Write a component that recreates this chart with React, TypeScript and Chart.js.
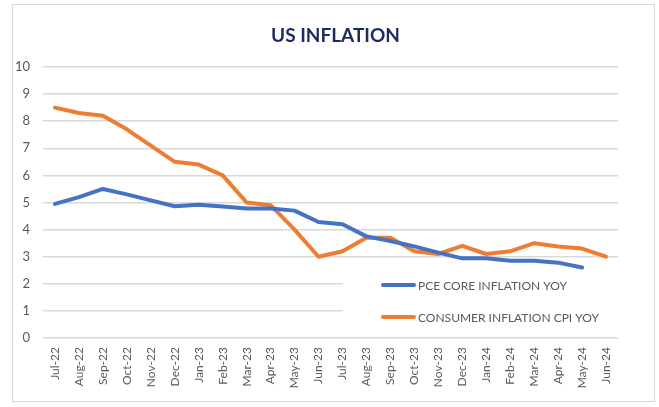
import React, { useEffect, useRef } from "react";
import { Chart, registerables } from "chart.js";

Chart.register(...registerables);

const months = [
  "Jul-22", "Aug-22", "Sep-22", "Oct-22", "Nov-22", "Dec-22",
  "Jan-23", "Feb-23", "Mar-23", "Apr-23", "May-23", "Jun-23",
  "Jul-23", "Aug-23", "Sep-23", "Oct-23", "Nov-23", "Dec-23",
  "Jan-24", "Feb-24", "Mar-24", "Apr-24", "May-24", "Jun-24",
];

const pceCore = [
  4.95, 5.2, 5.5, 5.3, 5.08, 4.86, 4.92, 4.85, 4.78, 4.78, 4.7, 4.28,
  4.2, 3.75, 3.58, 3.38, 3.15, 2.94, 2.94, 2.85, 2.85, 2.78, 2.6, null,
];

const cpi = [
  8.5, 8.3, 8.2, 7.7, 7.1, 6.5, 6.4, 6.0, 5.0, 4.9, 4.0, 3.0,
  3.2, 3.7, 3.7, 3.2, 3.1, 3.4, 3.1, 3.2, 3.5, 3.38, 3.3, 3.0,
];

const seriesNames = ["PCE CORE INFLATION YOY", "CONSUMER INFLATION CPI YOY"];
const seriesColors = ["#4472C4", "#ED7D31"];
const chartTitle = "US INFLATION";
const yTicks = { min: 0, max: 10, step: 1 };

const FONT = "Lato, 'Open Sans', sans-serif";
const TEXT = "#595959";

const titlePlugin = {
  id: "customTitle",
  afterDraw(chart: any) {
    const { ctx, chartArea } = chart;
    ctx.save();
    ctx.fillStyle = "#1c2a5e";
    ctx.font = `bold 19px ${FONT}`;
    ctx.textAlign = "center";
    ctx.textBaseline = "alphabetic";
    ctx.fillText(chartTitle, (chartArea.left + chartArea.right) / 2 + 5, chartArea.top - 25);
    ctx.restore();
  },
};

const insideLegend = {
  id: "insideLegend",
  beforeDatasetsDraw(chart: any) {
    const { ctx, chartArea, scales } = chart;
    const y = scales.y;
    const left = chartArea.left + 300;
    const top = y.getPixelForValue(2.5);
    const bottom = y.getPixelForValue(0.3);
    ctx.save();
    ctx.fillStyle = "#ffffff";
    ctx.fillRect(left, top, chartArea.right - left + 2, bottom - top);
    const rows = [chartArea.bottom - 53, chartArea.bottom - 21];
    chart.data.datasets.forEach((ds: any, i: number) => {
      const ry = rows[i];
      ctx.strokeStyle = ds.borderColor;
      ctx.lineWidth = 4;
      ctx.lineCap = "round";
      ctx.beginPath();
      ctx.moveTo(chartArea.left + 340, ry);
      ctx.lineTo(chartArea.left + 371, ry);
      ctx.stroke();
      ctx.fillStyle = TEXT;
      ctx.font = `12px ${FONT}`;
      ctx.textBaseline = "middle";
      ctx.textAlign = "left";
      ctx.fillText(ds.label, chartArea.left + 375, ry + 1);
    });
    ctx.restore();
  },
};

export default function App() {
  const ref = useRef<HTMLCanvasElement | null>(null);

  useEffect(() => {
    if (!ref.current) return;
    const chart = new Chart(ref.current, {
      type: "line",
      data: {
        labels: months,
        datasets: [
          {
            label: seriesNames[0],
            data: pceCore,
            borderColor: seriesColors[0],
            backgroundColor: seriesColors[0],
            borderWidth: 4,
            pointRadius: 0,
            tension: 0,
            borderCapStyle: "round",
            borderJoinStyle: "round",
          },
          {
            label: seriesNames[1],
            data: cpi,
            borderColor: seriesColors[1],
            backgroundColor: seriesColors[1],
            borderWidth: 4,
            pointRadius: 0,
            tension: 0,
            borderCapStyle: "round",
            borderJoinStyle: "round",
          },
        ],
      },
      options: {
        responsive: false,
        animation: false,
        layout: { padding: { left: 0, right: 41, top: 67, bottom: 0 } },
        plugins: {
          legend: { display: false },
          tooltip: { enabled: false },
          title: { display: false },
        },
        scales: {
          x: {
            offset: true,
            grid: { display: false, drawTicks: false },
            border: { display: false },
            ticks: {
              color: TEXT,
              font: { family: FONT, size: 12 },
              maxRotation: 90,
              minRotation: 90,
              autoSkip: false,
              padding: 9,
            },
            afterFit(scale: any) {
              scale.height = 69;
            },
          },
          y: {
            min: yTicks.min,
            max: yTicks.max,
            grid: { color: "#d9d9d9", lineWidth: 1.5, drawTicks: false },
            border: { display: false },
            ticks: {
              stepSize: yTicks.step,
              color: TEXT,
              font: { family: FONT, size: 13 },
              padding: 13,
            },
            afterFit(scale: any) {
              scale.width = 43;
            },
          },
        },
      },
      plugins: [insideLegend, titlePlugin],
    });
    return () => chart.destroy();
  }, []);

  return (
    <div style={{ position: "absolute", left: 0, top: 0, width: 659, height: 407, background: "#fff" }}>
      <div
        style={{
          position: "absolute",
          left: 12,
          top: 4,
          width: 643,
          height: 398,
          border: "1px solid #d9d9d9",
          boxSizing: "border-box",
        }}
      />
      <canvas ref={ref} width={659} height={407} style={{ position: "absolute", left: 0, top: 0 }} />
    </div>
  );
}
